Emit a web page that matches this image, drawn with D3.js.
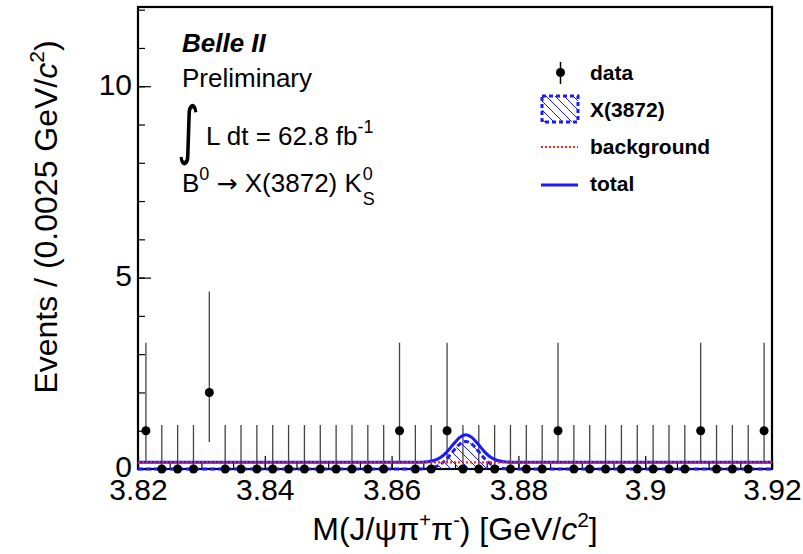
<!DOCTYPE html>
<html><head><meta charset="utf-8">
<script src="https://cdn.jsdelivr.net/npm/d3@7"></script>
<style>
body{margin:0;background:#fff;}
svg{display:block;font-family:"Liberation Sans",Arial,Helvetica,sans-serif;}
</style>
</head><body>
<svg id="c" width="803" height="554"></svg>
<script>
// ---- data ----
const binLow = 3.82, binWidth = 0.0025;
const counts = [1,0,0,0,2,0,0,0,0,0, 0,0,0,0,0,0,1,0,0,1, 0,0,0,0,0,0,1,0,0,0, 0,0,0,0,0,1,0,0,0,1];
// Poisson 68% asymmetric errors by count: [low, high]
const poissonErr = {0:[0,1.148], 1:[0.827,2.300], 2:[1.292,2.638]};
// fitted components
const sigX = [3.82, 3.8617, 3.8647, 3.8657, 3.8667, 3.8677, 3.8687, 3.8697, 3.8707, 3.8717, 3.8727, 3.8737, 3.8747, 3.8757, 3.8767, 3.8777, 3.8787, 3.8817, 3.92];
const sigY = [0, 0, 0.003, 0.014, 0.046, 0.123, 0.267, 0.463, 0.645, 0.72, 0.645, 0.463, 0.267, 0.123, 0.046, 0.014, 0.003, 0, 0];
const bkgX = [3.82, 3.92];
const bkgY = [0.175, 0.175];
const xTicks = [3.82, 3.84, 3.86, 3.88, 3.90, 3.92];
const yTicks = [0, 5, 10];
const legendLabels = ["data", "X(3872)", "background", "total"];

// ---- layout ----
const L = 138, R = 772, T = 7, B = 469;
const svg = d3.select("#c");
const x = d3.scaleLinear().domain([3.82, 3.92]).range([L, R]);
const y = d3.scaleLinear().domain([0, 12.07]).range([B, T]);

const defs = svg.append("defs");
const pat = defs.append("pattern").attr("id","hatch").attr("patternUnits","userSpaceOnUse")
  .attr("width",9).attr("height",9);
pat.append("path").attr("d","M0,0 L9,9 M-3,6 L3,12 M6,-3 L12,3")
  .attr("stroke","#1a1aff").attr("stroke-width",1);

// axes ticks (inside)
const gx = svg.append("g").attr("transform",`translate(0,${B})`);
gx.call(d3.axisBottom(x).tickValues(d3.range(0,21).map(i=>3.82+i*0.005)).tickSize(-7).tickFormat(""));
gx.append("g").call(d3.axisBottom(x).tickValues(xTicks).tickSize(-13).tickPadding(10)
  .tickFormat(d=>String(+d.toFixed(2))));
gx.selectAll(".domain").remove();
gx.selectAll("line").attr("stroke","#000").attr("stroke-width",1.2);
gx.selectAll("text").attr("font-size",30).attr("fill","#000").attr("font-family","Liberation Sans, Arial, sans-serif");

const gy = svg.append("g").attr("transform",`translate(${L},0)`);
gy.call(d3.axisLeft(y).tickValues(d3.range(0,13)).tickSize(-7).tickFormat(""));
gy.append("g").call(d3.axisLeft(y).tickValues(yTicks).tickSize(-13).tickPadding(6).tickFormat(d3.format("d")));
gy.selectAll(".domain").remove();
gy.selectAll("line").attr("stroke","#000").attr("stroke-width",1.2);
gy.selectAll("text").attr("font-size",30).attr("fill","#000").attr("dy","0.26em")
  .attr("font-family","Liberation Sans, Arial, sans-serif");

// frame
svg.append("rect").attr("x",L).attr("y",T).attr("width",R-L).attr("height",B-T)
  .attr("fill","none").attr("stroke","#000").attr("stroke-width",2.2);

// data error bars
const bins = counts.map((c,i)=>({x: binLow + binWidth*(i+0.5), c}));
svg.append("g").selectAll("line").data(bins).join("line")
  .attr("x1",d=>x(d.x)).attr("x2",d=>x(d.x))
  .attr("y1",d=>y(d.c - poissonErr[d.c][0])).attr("y2",d=>y(d.c + poissonErr[d.c][1]))
  .attr("stroke","#444").attr("stroke-width",1.3);

// curves
const sigPts = sigX.map((v,i)=>[v, sigY[i]]);
const totPts = sigX.map((v,i)=>[v, sigY[i] + bkgY[0]]);
const bkgPts = bkgX.map((v,i)=>[v, bkgY[i]]);
const line = d3.line().x(d=>x(d[0])).y(d=>y(d[1])).curve(d3.curveMonotoneX);
const area = d3.area().x(d=>x(d[0])).y0(y(0)).y1(d=>y(d[1])).curve(d3.curveMonotoneX);

svg.append("path").attr("d",area(sigPts)).attr("fill","url(#hatch)");
svg.append("path").attr("d",line(sigPts)).attr("fill","none").attr("stroke","#1a1aff")
  .attr("stroke-width",3).attr("stroke-dasharray","5,3");
svg.append("path").attr("d",line(totPts)).attr("fill","none").attr("stroke","#1a1aff").attr("stroke-width",3);
svg.append("path").attr("d",line(bkgPts)).attr("fill","none").attr("stroke","#ff2020")
  .attr("stroke-width",2.2).attr("stroke-dasharray","2,2");

// data points
svg.append("g").selectAll("circle").data(bins).join("circle")
  .attr("cx",d=>x(d.x)).attr("cy",d=>y(d.c)).attr("r",4.5).attr("fill","#000");

// legend
const lg = svg.append("g");
const rowY = [80, 117, 154, 191];
lg.append("line").attr("x1",560.5).attr("x2",560.5).attr("y1",62).attr("y2",84).attr("stroke","#000").attr("stroke-width",1.5);
lg.append("circle").attr("cx",560.5).attr("cy",72.5).attr("r",4.5).attr("fill","#000");
lg.append("rect").attr("x",542).attr("y",96).attr("width",36).attr("height",26)
  .attr("fill","url(#hatch)").attr("stroke","#1a1aff").attr("stroke-width",3).attr("stroke-dasharray","4,3");
lg.append("line").attr("x1",541).attr("x2",578).attr("y1",147).attr("y2",147)
  .attr("stroke","#ff2020").attr("stroke-width",2.2).attr("stroke-dasharray","2,2");
lg.append("line").attr("x1",541).attr("x2",578).attr("y1",185).attr("y2",185)
  .attr("stroke","#1a1aff").attr("stroke-width",3);
lg.selectAll("text.lt").data(legendLabels).join("text").attr("class","lt")
  .attr("x",590).attr("y",(d,i)=>rowY[i]).attr("font-size",21).attr("font-weight","bold").text(d=>d);

// annotation text
svg.append("text").attr("x",182).attr("y",52).attr("font-size",26).attr("font-weight","bold")
  .attr("font-style","italic").text("Belle II");
svg.append("text").attr("x",182).attr("y",87).attr("font-size",26).text("Preliminary");
svg.append("text").attr("x",0).attr("y",0).attr("font-size",44).attr("font-family","DejaVu Sans")
  .attr("transform","translate(177,152) scale(1,1.45)").text("∫");
const lum = svg.append("text").attr("x",206).attr("y",145).attr("font-size",26);
lum.append("tspan").text("L dt = 62.8 fb");
lum.append("tspan").attr("font-size",18).attr("dy",-12).text("-1");

const dec = svg.append("text").attr("x",182).attr("y",192).attr("font-size",26);
dec.append("tspan").text("B");
dec.append("tspan").attr("font-size",18).attr("dy",-12).text("0");
dec.append("tspan").attr("dy",12).text(" ");
dec.append("tspan").attr("font-family","DejaVu Sans").attr("font-size",25).text("→");
dec.append("tspan").text(" X(3872) K");
const decLen = dec.node().getComputedTextLength();
svg.append("text").attr("x",182+decLen+1).attr("y",180).attr("font-size",18).text("0");
svg.append("text").attr("x",182+decLen+1).attr("y",205).attr("font-size",18).text("S");

// axis titles
const yt = svg.append("text").attr("transform","translate(57,217) rotate(-90)")
  .attr("text-anchor","middle").attr("font-size",32);
yt.append("tspan").text("Events / (0.0025 GeV/");
yt.append("tspan").attr("font-style","italic").text("c");
yt.append("tspan").attr("font-size",21).attr("dy",-13).text("2");
yt.append("tspan").attr("dy",13).text(")");

const xt = svg.append("text").attr("x",455).attr("y",540).attr("text-anchor","middle").attr("font-size",32);
xt.append("tspan").text("M(J/ψπ");
xt.append("tspan").attr("font-size",20).attr("dy",-13).text("+");
xt.append("tspan").attr("font-size",32).attr("dy",13).text("π");
xt.append("tspan").attr("font-size",20).attr("dy",-13).text("-");
xt.append("tspan").attr("font-size",32).attr("dy",13).text(") [GeV/");
xt.append("tspan").attr("font-style","italic").text("c");
xt.append("tspan").attr("font-size",21).attr("dy",-13).text("2");
xt.append("tspan").attr("dy",13).text("]");
</script>
</body></html>
